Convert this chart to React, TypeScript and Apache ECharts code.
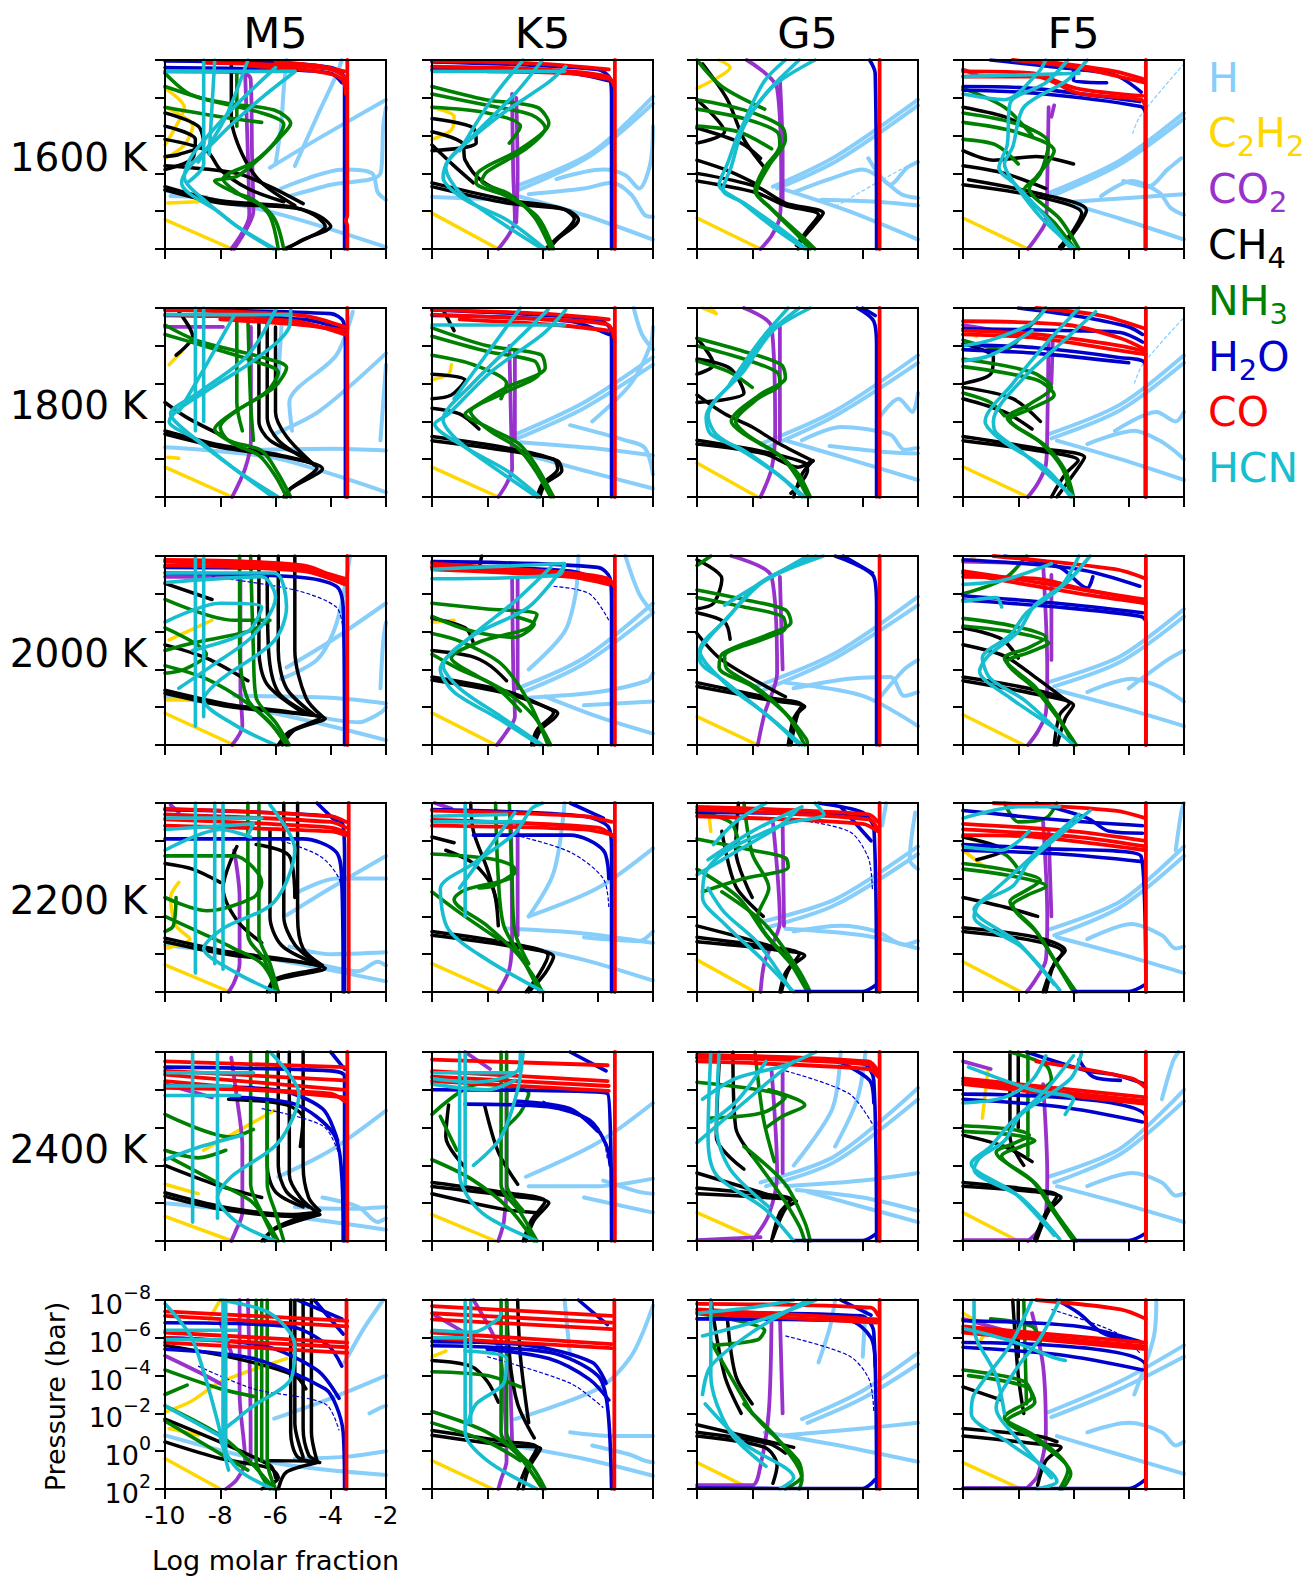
import React, { useEffect, useRef } from "react";
import * as echarts from "echarts";

const COL_LABELS = ["M5", "K5", "G5", "F5"];
const ROW_LABELS = ["1600 K", "1800 K", "2000 K", "2200 K", "2400 K", ""];
const X_MIN = -10, X_MAX = -2, X_STEP = 2;
const Y_MIN = -8, Y_MAX = 2, Y_STEP = 2;

// each panel (row*4+col) -> list of polylines, flat [x1,y1,x2,y2,...] (x: log molar fraction, y: log10 pressure/bar)
const H_LINES: number[][][] = [
  [[-10,-1.1,-6,0.1,-2,1.9],[-9.8,-0.8,-8.5,-0.75],[-6.2,-2.3,-4.5,-3.8,-2,-5.9],[-6.0,-2.5,-5.8,-4.5,-5.7,-6.5,-5.6,-8],[-5.3,-2.4,-4.5,-5,-3.8,-7.2,-3.6,-8],[-5.5,-0.8,-4,-1.4,-2.2,-2.0,-2.1,-4.5,-2,-5.5],[-5.8,-1.2,-3.5,-2.2,-2.5,-2.0,-2.3,-1.0,-2,-0.6]],
  [[-7,-1.3,-4.25,-3.07,-2,-6.06],[-6.9,-1.1,-4.3,-2.9,-2,-5.7],[-6.84,-0.78,-4.5,0.2,-2,1.5],[-6.5,-0.9,-4.5,-1.2,-3.5,-1.5,-2.8,-0.9,-2.3,0.2,-2,0.3],[-5.5,-1.7,-3.8,-2.2,-3.0,-1.9,-2.5,-1.2,-2.1,-2.5,-2,-4.5],[-10,-0.75,-7.3,-0.6]],
  [[-7.25,-1.3,-4.98,-2.9,-2,-5.9],[-7.1,-1.2,-4.9,-2.7,-2,-5.6],[-6.8,-1.13,-4.5,0.0,-2,1.5],[-6.5,-1.0,-5.0,-1.8,-4.0,-2.2,-3.3,-1.7,-2.6,-0.9,-2,-0.7],[-5.5,-0.6,-3.5,-0.5,-2,-0.3],[-3.8,-2.8,-3.0,-1.4,-2.4,-2.3,-2,-2.6]],
  [[-6.9,-0.96,-4.3,-2.7,-2,-5.2],[-6.8,-0.8,-4.3,-2.5,-2,-4.9],[-6.6,-0.6,-4.3,0.4,-2,1.5],[-5.0,-0.8,-3.9,-1.6,-2.9,-1.0,-2.5,-0.2,-2,0.2],[-6.0,-0.5,-4.0,-0.7,-2.0,-0.9],[-4.2,-1.6,-3.3,-1.3,-2.6,-2.2,-2.1,-2.8]],
  [[-10,-0.63,-6.05,-0.07,-2,1.75],[-6.5,-0.5,-4,-0.55,-2,-0.46],[-6.05,-1.33,-4.4,-2.56,-2,-5.6],[-5.4,-1.5,-5.5,-3,-3.8,-5.5,-3.2,-7.8],[-5.75,-7.7,-5.85,-5.5,-5.9,-4],[-2.2,-1.0,-2.1,-3.0,-2,-5.0]],
  [[-7,-1.3,-4.5,-3.0,-2,-5.4],[-6.9,-1.1,-4.5,-2.7,-2,-5.0],[-6.7,-0.28,-4.5,0.6,-2,1.55],[-6.8,-0.9,-4.3,-0.6,-2,-0.2],[-5.0,-1.8,-3.0,-1.0,-2.3,-0.6,-2,0.8],[-4.2,-2.0,-2.8,-4.0,-2.1,-6.0,-2,-7.0],[-2.7,-8,-2.4,-6.6,-2,-5.8]],
  [[-7.7,-0.8,-5,-2.56,-2,-5.5],[-7.5,-0.6,-5,-2.3,-2,-5.1],[-6.8,-1,-4.5,0,-2,1.1],[-6.2,-1.0,-4.8,-1.7,-3.0,-1.3,-2.5,-0.5,-2,-0.6],[-5.2,-0.7,-3.3,-0.4,-2,-0.3],[-3.5,-2.0,-2.7,-3.2,-2.2,-2.5,-2,-3.5]],
  [[-6.9,-1.33,-4.3,-2.9,-2,-5.5],[-6.8,-1.1,-4.3,-2.6,-2,-5.1],[-6.6,-0.98,-4.3,0,-2,1.1],[-5.5,-0.8,-3.8,-1.5,-2.9,-1.0,-2.4,-0.5,-2,0],[-4.5,-1.5,-3.0,-2.5,-2.3,-2.0,-2,-2.5]],
  [[-10,-0.56,-6.05,0.32,-2,1.74],[-7.5,-0.6,-4,-0.5,-2,-0.2],[-5.6,-2.1,-4,-3.5,-2,-5.5],[-3.3,-8,-3.8,-4.4,-4.5,-2.5,-5.8,-1.5],[-2.2,-1.0,-2.1,-3.5,-2,-4.5],[-4.5,0.5,-3,0.8,-2.2,0.3,-2,0.0]],
  [[-6.9,-1.0,-4.5,-2.6,-2,-5.5],[-6.7,-0.8,-4.5,-2.3,-2,-5.0],[-5.9,-0.56,-4,0.5,-2,1.4],[-6.5,-0.5,-4,-0.8,-2.2,-1.4,-2,-1.8],[-4.5,-0.1,-2,-0.3],[-4.7,-8,-4.8,-6,-5.2,-4,-6.5,-2],[-3,-8,-2.5,-6,-2,-5]],
  [[-7.85,-1.1,-5,-2.85,-2,-5.85],[-7.6,-0.9,-5,-2.6,-2,-5.4],[-6.8,-1.3,-4,-0.6,-2,1.0],[-6.5,-1.0,-4.5,-1.5,-3.0,-1.6,-2.5,-0.6,-2,-0.8],[-3.5,-0.3,-2.5,-2.0,-2,-2.5]],
  [[-6.9,-1.33,-4.3,-2.7,-2,-5.2],[-6.7,-1.1,-4.3,-2.4,-2,-4.8],[-6.6,-0.9,-4.3,0.0,-2,1.0],[-5.5,-0.8,-3.9,-1.5,-2.9,-1.1,-2.3,-0.6,-2,-0.3],[-4.0,-1.0,-2.6,-2.5,-2,-3.0]],
  [[-10,-0.48,-6,0.3,-2,1.44],[-5.5,-0.4,-4,0.0,-2,-0.1],[-5.6,-2.06,-4,-3.5,-2,-5.2],[-5.3,-3.2,-3.8,-4.0,-2,-4.0],[-4.5,0.5,-3.0,0.9,-2.3,0.4,-2,0.6]],
  [[-5.2,-8,-5.6,-4.3,-6.5,-2.0],[-6.5,-2.0,-4,-3.5,-2,-5.6],[-7.3,-1.36,-4.5,-1.1,-2,-0.6],[-7,-0.5,-4.5,0.3,-2,1.4],[-4.5,-0.9,-2.5,-0.7,-2,-1.2]],
  [[-3.15,-8,-3.3,-6.8],[-7.7,-1.7,-5,-2.9,-2,-5.7],[-7.5,-1.4,-5,-2.6,-2,-5.3],[-6.8,-1.35,-4,-1.0,-2,-0.3],[-6.5,-1.2,-4.8,-1.5,-3.5,-1.2,-2.5,-0.5,-2,-0.7],[-2.1,-7.5,-2.3,-5.0,-2.0,-4.5]],
  [[-6.9,-1.3,-4.3,-2.8,-2,-5.7],[-6.7,-1.0,-4.3,-2.5,-2,-5.2],[-6.6,-0.9,-4.3,0,-2,1.0],[-5.5,-0.8,-3.9,-1.6,-2.8,-1.0,-2.3,-0.3,-2,-0.4],[-2.3,-5.5,-2.1,-7.5,-2,-8]],
  [[-10,0.0,-6,0.6,-2,1.4],[-5.3,0.2,-3.5,0.3,-2,0.2],[-5.9,-1.4,-4,-2.8,-2,-4.9],[-4.3,-0.3,-3,0.2,-2.3,1.0,-2,0.8]],
  [[-6.6,-1.4,-4,-3.2,-2,-5.3],[-6.5,-0.9,-4,-0.9,-2,-1.3],[-4.5,-0.3,-2,0.5],[-3.8,-1.2,-2.5,-0.6,-2,-0.5]],
  [[-4.8,-8,-5.1,-5,-6.5,-2],[-3.9,-8,-4.2,-5.5,-5.0,-3.0],[-7.7,-1.1,-5,-2.5,-2,-6.1],[-7.5,-0.9,-5,-2.2,-2,-5.5],[-6.8,-0.9,-4,-1.2,-2,-1.6],[-6.4,-0.7,-4,-0.3,-2,0.4],[-6.0,-0.6,-4,0.2,-2,1.0]],
  [[-6.9,-1.4,-4.3,-2.9,-2,-6],[-6.7,-1.1,-4.3,-2.6,-2,-5.4],[-6.6,-0.9,-4.3,0,-2,1.0],[-5.5,-0.9,-3.9,-1.6,-2.8,-1.1,-2.3,-0.4,-2,-0.5],[-2.8,-5.5,-2.4,-7.5,-2.2,-8]],
  [[-10,-0.84,-5.9,0.65,-2,1.26],[-6.05,-1.72,-4,-2.8,-2,-4.0],[-3.5,-4.7,-2.8,-6.5,-2.1,-8],[-5.3,0.4,-3.5,0.3,-2,0.0],[-2.6,-2.0,-2.2,-2.3,-2,-2.4]],
  [[-7,-1.7,-4,-3.3,-2.8,-5,-2,-7.7],[-5,-1.0,-3.5,-0.8,-2,-0.8],[-7.9,-0.5,-4.5,0.4,-2,1.3],[-4.2,-0.3,-2.8,0.2,-2.3,0.5,-2,0.6],[-5.2,-8,-5.0,-5]],
  [[-5.6,-4.7,-5.2,-6.5,-5.0,-8],[-4.0,-5,-3.9,-7.5],[-6.8,-0.84,-4,-1.2,-2,-1.5],[-7.55,-1.0,-4.5,-0.2,-2,0.56],[-6.2,-1.7,-4,-3.2,-2,-5.2],[-6.0,-1.5,-4,-2.8,-2,-4.6]],
  [[-6.9,-2.07,-4.3,-3.7,-2,-5.6],[-6.8,-1.8,-4.3,-3.3,-2,-5.0],[-6.6,-0.8,-4.3,0.2,-2,1.2],[-3.0,-8,-3.1,-6.0,-3.8,-3.0],[-5.5,-1.0,-4,-1.5,-2.8,-1.0,-2.3,-0.3,-2,-0.5]],
];

const C2H2_LINES: number[][][] = [
  [[-10,0.45,-7.57,2],[-9.9,-0.43,-8.8,-0.5],[-10,-6.5,-9.3,-5.5,-9.6,-4.5,-10,-3.5],[-10,-5.5,-9.0,-4.5,-9.3,-3.5,-10,-2.8]],
  [[-10,0.1,-7.6,2],[-10,-5.5,-9.2,-5.0,-9.3,-4.3,-10,-3.8]],
  [[-10,0.36,-7.7,2],[-9.2,-8,-8.8,-7.6,-9.1,-7.2,-10,-6.5]],
  [[-10,0.36,-7.65,2],[-10,-7.5,-9.3,-7.2]],
  [[-10,0.42,-7.57,2],[-9.9,-0.1,-9.5,-0.05],[-9.85,-5.0,-9.4,-5.7]],
  [[-10,0.42,-7.6,2],[-10,-4.2,-9.4,-4.5,-9.3,-5.0]],
  [[-10,0.2,-7.8,2],[-9.8,-8,-9.3,-7.7,-9.5,-8]],
  [[-10,0.4,-7.65,2],[-10,-6.8,-9.5,-6.5]],
  [[-10,0.32,-7.5,2],[-10,-0.38,-8.8,-0.38],[-9.85,-3.56,-8.3,-4.6]],
  [[-10,0.3,-7.7,2],[-10,-4.5,-9.2,-4.6]],
  [[-10,0.5,-7.8,2]],
  [[-10,0.4,-7.8,2],[-10,-7.7,-9.6,-7.9]],
  [[-10,0.57,-7.65,2],[-9.5,-3.8,-9.8,-3.0,-9.6,-1.5,-9.1,-0.8,-10,-0.3]],
  [[-10,0.5,-7.7,2]],
  [[-10,0.3,-7.9,2],[-9.6,-7.8,-9.5,-6.5]],
  [[-10,0.4,-7.9,2],[-10,-5.5,-9.2,-4.6]],
  [[-10,0.7,-7.57,2],[-10,-1.0,-8.8,-0.5],[-8.6,-2.8,-6.05,-4.9]],
  [[-10,0.6,-7.7,2]],
  [[-10,0.5,-8,1.8]],
  [[-10,0.5,-8,2],[-9.1,-7,-9.3,-4.5]],
  [[-10,0.39,-8,2],[-9.85,-1.2,-8.8,-0.85],[-10,-2.07,-9.1,-2.6,-8,-3.65,-5.6,-4.9],[-8.0,-8,-8.4,-7.0]],
  [[-10,0.5,-7.8,2],[-10,-5.0,-9.5,-5.3]],
  [[-10,0.6,-8.2,1.9]],
  [[-10,0.6,-7.9,2],[-10,-7.3,-9,-6.5],[-9.5,-5.5,-9.2,-6.3]],
];

const CO2_LINES: number[][][] = [
  [[-10,-7.4,-7.3,-7.35,-6.9,-7,-6.85,-3,-6.8,0,-7,0.8,-7.5,2],[-7.1,-7.3,-7.0,-3,-6.95,0.2,-7.6,2]],
  [[-7.1,-6.2,-7.06,-2,-7.0,0.5,-7.2,1.2,-7.6,2],[-6.95,-6.0,-6.9,-2,-6.95,0.6]],
  [[-8.2,-8,-7.1,-6.5,-6.95,-1.5,-7.0,0.3,-7.3,1.3,-7.7,2],[-7.0,-7.0,-6.9,-3,-6.9,-0.5]],
  [[-10,-7.5,-9.5,-7.2],[-6.9,-5.5,-6.95,-1.5,-7.0,0.5,-7.3,1.3,-7.65,2],[-6.7,-5.6,-6.8,-5.0]],
  [[-10,-7.0,-7.9,-7.0],[-6.89,-7.0,-6.89,-1.0,-7.1,0.5,-7.57,2]],
  [[-10,-7.9,-8.8,-7.9],[-7.2,-6,-7.14,-2,-7.1,0.5,-7.3,1.3,-7.6,2],[-7.0,-5.8,-7.0,-1.0]],
  [[-8.3,-8,-7.3,-7.0,-7.17,-1.5,-7.3,0.5,-7.7,2],[-7.0,-7.0,-7.0,-1.0]],
  [[-10,-7.1,-8.8,-6.8,-8.0,-6.6],[-6.9,-6.5,-6.95,-1.5,-7.0,0.3,-7.3,1.3,-7.65,2],[-6.75,-6.3,-6.8,-4.0]],
  [[-10,-6.9,-7.4,-6.9],[-7.27,-6.9,-7.27,-1,-7.2,1.0,-7.57,2]],
  [[-7.1,-6.8,-7.06,-2,-7.0,0.5,-7.3,1.3,-7.65,2],[-6.9,-6.8,-6.9,-1.0]],
  [[-8.76,-8,-7.3,-6.9,-7.1,-1.8,-7.55,0.32,-7.8,2],[-7.0,-6.9,-6.9,-2.0]],
  [[-10,-7.7,-7.1,-7.6],[-7.1,-7.6,-6.95,-2.0,-7.0,0.3,-7.3,1.3,-7.65,2],[-6.8,-7.0,-6.8,-2.5]],
  [[-7.5,-5.5,-7.3,-3,-7.3,0.5,-7.5,1.5,-7.7,2],[-9.8,-7.9,-9.5,-7.5]],
  [[-7.14,-7.0,-7.1,-1,-7.2,0.8,-7.6,2],[-6.9,-7.0,-6.9,-1.0],[-9.9,-8,-9.3,-7.7]],
  [[-7.25,-6.95,-7.0,-1.7,-7.55,0.4,-7.7,2],[-6.9,-6.9,-6.85,-1.5]],
  [[-7.1,-7.0,-6.95,-2,-7.0,0.3,-7.4,1.4,-7.7,2],[-6.9,-6.5,-6.8,-2]],
  [[-7.6,-7.7,-7.4,-5.6,-7.2,-3,-7.2,0.5,-7.45,1.5,-7.6,2],[-10,-6.3,-8.3,-5.6]],
  [[-8.8,-8,-7.9,-7.1],[-7.3,-6.5,-7.3,-1,-7.4,1.0,-7.6,2]],
  [[-7.3,-7,-7.1,-1.6,-7.4,0.6,-8,2],[-6.9,-7,-6.9,-1.6],[-10,1.95,-7.7,1.8]],
  [[-7.1,-6.3,-6.95,-1.5,-7.0,0.5,-7.3,1.5,-7.65,2],[-10,1.95,-7.65,1.95],[-10,-7.5,-9,-7.1]],
  [[-7.3,-8,-7.3,-3,-7.1,0.5,-7.4,1.5,-7.8,2],[-7.0,-8,-6.9,-1,-6.9,0.5],[-10,-5.05,-8.8,-4.2,-7.9,-3.5],[-8.0,-6.8,-7.6,-5.2]],
  [[-8.5,-8,-7.6,-5.5,-7.4,-3.0,-7.3,0.5,-7.5,1.5,-7.6,2],[-7.2,-5.5,-7.1,-0.5],[-9.9,-7.2,-8.5,-6.0]],
  [[-10,1.8,-8,1.8,-7.7,0.75,-7.4,-2.1,-7.3,-7.3],[-7.0,-7.3,-6.9,-2.0]],
  [[-7.5,-7.3,-7.1,-4.5,-7.0,-1.0,-7.3,1.3,-7.65,1.9],[-10,1.95,-7.65,1.95],[-10,-7.0,-8.5,-6.4]],
];

const CH4_LINES: number[][][] = [
  [[-10,-1.13,-8,-0.43,-5.3,-0.17,-4.4,0.27,-4.0,0.8,-5.0,1.5,-5.6,2],[-10,-1.3,-8,-0.55,-5.5,-0.25,-4.6,0.2,-4.2,0.8,-5.1,1.6,-5.7,2],[-10,-2.4,-7.4,-2.0,-6.2,-1.3,-5,-0.4],[-7.6,-7.9,-7.6,-5,-7.2,-3,-6.5,-1.5,-5.3,-0.3],[-10,-5.2,-8.8,-4.5,-8.6,-3.6,-9.5,-3.0,-10,-2.9],[-10,-4.5,-8.9,-3.8,-9.0,-2.8,-10,-2.2],[-10,-3.8,-8.5,-3.2,-8.0,-2.2,-7.0,-1.2,-5.7,-0.5]],
  [[-10,-1.3,-7.3,-0.43,-5.16,-0.08,-4.7,0.45,-5.47,1.5,-5.77,2],[-10,-1.5,-7.3,-0.6,-5.3,-0.15,-4.85,0.4,-5.6,1.6,-5.9,2],[-10,-4.9,-8.5,-4.4,-8.4,-3.6,-10,-3.2],[-10,-4.2,-8.9,-3.6,-8.8,-2.7,-8.2,-1.6,-7.0,-0.7],[-10,-3.5,-9.2,-2.4,-8.5,-1.5]],
  [[-10,-2.0,-7.85,-1.3,-6.8,-0.43,-5.43,0.1,-5.8,0.8,-6.2,1.5,-6.34,2],[-10,-1.6,-7.9,-1.0,-6.8,-0.3,-5.6,0.2,-6.0,1.0,-6.4,1.8],[-9.8,-7.8,-8.9,-5.9,-8.3,-3.8,-7.5,-2.2],[-10,-5.9,-9.0,-4.2,-10,-3.6],[-10,-4.4,-8.4,-3.6,-7.7,-2.8],[-10,-2.7,-8.8,-2.1,-7.8,-1.4]],
  [[-9.8,-1.66,-7.35,-0.96,-5.53,-0.07,-5.83,0.8,-6.45,2],[-10,-1.4,-7.4,-0.8,-5.7,0.1,-6.0,1.0,-6.5,1.9],[-10,-3.2,-8.9,-2.7,-7.35,-2.9,-6.0,-2.5],[-10,-2.4,-8.5,-2.0,-7.0,-1.2],[-10,-5.5,-8.5,-5.0,-7.5,-4.3]],
  [[-10,-1.33,-8,-0.63,-5.6,-0.1,-4.3,0.5,-5.45,1.56,-5.6,2],[-10,-1.5,-8,-0.75,-5.8,-0.2,-4.5,0.45,-5.5,1.6,-5.7,2],[-6.6,-7.4,-6.6,-2,-6.2,-1,-5.0,-0.2],[-6.3,-7.4,-6.3,-2.2,-5.9,-1.0,-4.8,0.1],[-6.0,-7.0,-6.0,-2.5,-5.6,-1.2,-4.6,0.3],[-10,-3.0,-9.2,-2.2,-8.0,-1.3],[-9.5,-7.8,-9.0,-6.5,-9.6,-5.5]],
  [[-10,-0.98,-7.3,-0.46,-5.47,0.07,-5.3,0.6,-5.9,1.3,-6.1,2],[-10,-1.2,-7.3,-0.6,-5.6,0.0,-5.45,0.5,-6.0,1.3,-6.2,2],[-10,-3.2,-9.3,-3.4,-8.8,-4.2,-10,-4.5],[-10,-2.7,-9.0,-2.4,-8.3,-1.6],[-9.6,-7.9,-9.2,-6.8]],
  [[-10,-0.8,-7.55,-0.28,-6.34,0.42,-5.8,0.07,-6.2,0.8,-6.5,2],[-10,-1.0,-7.6,-0.4,-6.1,0.2,-6.0,0.6,-6.6,1.8],[-10,-3.4,-9,-2.4,-8,-1.7,-7,-0.8,-5.8,0.1],[-10,-6.4,-9.4,-5.0,-10,-4.5],[-10,-5.3,-8.8,-4.8,-8.3,-3.5,-10,-3.0]],
  [[-10,-0.98,-7.35,-0.46,-5.83,0.07,-6.3,0.8,-6.8,2],[-10,-1.2,-7.4,-0.6,-5.6,-0.1,-6.0,0.8,-6.6,2],[-10,-6.1,-8.9,-5.4,-9.0,-4.5,-10,-4.0],[-10,-3.8,-8.2,-3.2,-7.2,-2.0],[-10,-3.2,-8.5,-2.5,-7.5,-1.6]],
  [[-10,-0.73,-7.7,-0.03,-5.3,0.32,-4.2,0.6,-5.3,1.2,-5.75,2],[-10,-0.9,-7.7,-0.15,-5.5,0.25,-4.4,0.55,-5.5,1.3,-5.9,2],[-6.6,-8,-6.6,-3,-6.3,-1.2,-5.0,0.3],[-5.3,-8,-5.3,-3,-4.9,-0.5,-4.3,0.5],[-5.9,-8,-5.9,-3.0,-5.6,-1.0,-4.6,0.4],[-6.3,-7.0,-6.25,-3,-5.9,-0.8,-4.8,0.35],[-10,-6.55,-8.3,-5.7],[-10,-3.3,-8.5,-2.6,-7.0,-1.4]],
  [[-10,-1.44,-7.3,-0.73,-5.6,0.15,-5.45,0.32,-6.07,1.2,-6.3,2],[-10,-1.6,-7.3,-0.85,-5.8,0.05,-5.6,0.3,-6.2,1.2,-6.4,2],[-10,-3.0,-8.6,-2.7,-7.9,-2.2,-7.3,-1.4],[-10,-4.7,-8.8,-4.2,-8.5,-3.4],[-8.2,-8,-8.3,-7.3]],
  [[-10,-1.1,-7.4,-0.38,-6.1,-0.03,-6.34,0.32,-6.6,2],[-10,-1.3,-7.4,-0.5,-6.2,-0.1,-6.5,0.6,-6.7,2],[-10,-3.9,-9.1,-2.5,-6.8,-0.55],[-10,-7.8,-9.1,-6.8,-9.4,-5.5,-10,-5.2],[-10,-5.0,-9.0,-4.5,-8.8,-3.6]],
  [[-10,-1.6,-7.35,-0.9,-6.15,-0.2,-6.5,0.4,-6.7,2],[-10,-1.4,-7.4,-0.7,-6.0,-0.1,-6.3,0.6,-6.6,2],[-10,-3.3,-8.5,-2.7,-7.3,-1.5,-6.3,-0.4],[-10,-4.2,-8.6,-3.6,-8.0,-2.6]],
  [[-10,-0.66,-7.6,0.04,-5.3,0.39,-4.2,0.74,-6.05,1.4,-6.2,2],[-10,-0.85,-7.6,-0.1,-5.5,0.3,-4.4,0.7,-6.0,1.3,-6.3,2],[-5.2,-8,-5.2,-2,-5.0,-0.3,-4.3,0.6],[-5.7,-8,-5.7,-2,-5.3,-0.5,-4.5,0.5],[-6.2,-6.5,-6.2,-2,-5.8,-0.5,-4.7,0.4],[-7.4,-5.7,-7.9,-3.5,-7.4,-1.8,-6.5,-0.6],[-6.7,-5.8,-5.5,-5.2,-5.3,-3.0],[-10,-4.8,-9,-4.5,-8.0,-3.8]],
  [[-10,-1.0,-7.3,-0.46,-5.6,0.13,-5.9,1.0,-6.5,2],[-10,-1.2,-7.3,-0.6,-5.8,0.05,-6.1,1.0,-6.6,2],[-9.5,-5.5,-8.5,-4.8,-7.8,-3.5,-7.6,-1.5],[-10,-6.2,-9.2,-5.9],[-8.6,-8,-8.5,-6.5,-8.0,-4.5,-7.6,-2.5]],
  [[-10,-0.66,-7.55,-0.3,-6.1,0.08,-6.65,0.74,-6.95,2],[-10,-0.9,-7.5,-0.4,-6.3,0.0,-6.8,1.0,-7.0,2],[-10,-1.5,-7.5,-0.5,-6.8,0.0],[-9.1,-6.5,-8.6,-3.6,-7.6,-2.0],[-8.5,-8,-8.6,-5.5,-8.0,-3.0]],
  [[-10,-1.4,-7.35,-0.9,-6.3,-0.2,-6.7,0.5,-7.0,2],[-10,-1.2,-7.4,-0.7,-6.4,-0.1,-6.8,0.8,-7.1,2],[-10,-3.0,-8.5,-2.5,-7.3,-2.0],[-10,-6.2,-8.5,-5.5,-9.5,-5.0]],
  [[-10,-0.36,-7.9,0.34,-5.3,0.7,-4.4,0.6,-6.05,1.39,-6.5,2],[-10,-0.55,-7.9,0.2,-5.5,0.6,-4.6,0.5,-6.0,1.3,-6.4,2],[-5.9,-8,-5.9,-2,-5.6,-0.6,-4.8,0.2],[-5.5,-8,-5.5,-1.5,-5.1,-0.3,-4.4,0.6],[-5.0,-8,-5.0,-2,-4.8,-0.3,-4.4,0.4],[-6.3,-8,-6.3,-2,-6.0,-0.6,-5.0,0.2],[-7.7,-5.5,-5.6,-5.2,-5.0,-4.5,-5.1,-3.0],[-10,-2.0,-8.2,-1.0,-6.5,-0.3]],
  [[-10,-0.88,-7.3,-0.4,-5.77,-0.01,-6.3,0.9,-6.6,2],[-10,-1.1,-7.3,-0.55,-5.9,-0.1,-6.4,0.9,-6.7,2],[-9.4,-5.2,-9.5,-3.5,-8.8,-1.9],[-8.1,-5.2,-7.6,-2.7,-6.9,-1.0],[-10,-0.5,-7.5,0.3,-6.2,0.5]],
  [[-10,-0.5,-7.55,-0.3,-6.4,-0.1,-6.8,0.3,-7.25,1.8],[-10,-0.8,-7.5,-0.45,-6.6,-0.2,-7.0,0.5,-7.3,2],[-10,-1.6,-7.3,-0.4],[-9.2,-7.4,-9.3,-3.5,-8.3,-1.8],[-8.7,-8,-8.6,-4,-8.0,-2.5]],
  [[-10,-0.9,-7.35,-0.6,-6.45,-0.3,-6.9,0.4,-7.35,2],[-10,-1.1,-7.4,-0.7,-6.6,-0.4,-7.0,0.5,-7.4,1.9],[-8.3,-8,-8.3,-3.5,-7.8,-2.0],[-8.0,-8,-8.0,-4.0],[-10,-3.6,-8.5,-3.0,-7.5,-2.2]],
  [[-10,-0.49,-8,0.39,-6.2,0.9,-5.9,1.4,-6.5,2],[-10,-1.7,-6.2,0.74,-6.0,1.4],[-6.2,0.5,-4.4,0.56,-5.6,1.1,-5.9,2],[-5.45,-8,-5.45,-1,-5.2,0.3,-4.4,0.6],[-5.0,-8,-5.0,-1.2,-4.8,0.2,-4.5,0.5],[-4.7,-8,-4.7,-1,-4.5,0.5],[-5.3,-8,-5.3,-1.5,-5.0,0.3],[-10,-5.6,-7.4,-4.9,-5.3,-4.0,-4.9,-3.3]],
  [[-10,-0.84,-7.3,-0.3,-6.07,-0.14,-6.5,0.9,-6.7,2],[-10,-1.1,-7.3,-0.5,-6.2,-0.2,-6.6,0.9,-6.9,2],[-7.3,-8,-7.2,-5,-6.9,-2.5,-6.3,-0.7],[-6.9,-8,-6.8,-5,-6.5,-1.5],[-10,-4.8,-8.6,-4.5,-8.0,-3.7,-7.6,-2.6]],
  [[-10,-0.8,-7.55,-0.2,-7.1,0.74,-7.25,1.7],[-10,-1.4,-6.5,-0.2],[-10,-1.0,-7.4,-0.4,-6.8,0.1],[-9.5,-8,-9.0,-4,-8.4,-2.0],[-8.9,-7.0,-8.6,-4.0,-8.0,-2.5]],
  [[-10,-0.8,-7.35,-0.4,-6.45,-0.2,-7.0,0.5,-7.3,1.8],[-10,-1.2,-7.3,-0.8,-6.6,-0.5],[-8.2,-8,-8.0,-4.0,-7.8,-2.0],[-8.0,-8,-8.0,-5.0],[-10,-3.4,-8.6,-2.7]],
];

const NH3_LINES: number[][][] = [
  [[-10,-7.3,-9.1,-6.2,-7.7,-5.7,-6.05,-5.35,-5.45,-4.65,-5.9,-3.8,-6.5,-2.9,-7.4,-1.84,-8.2,-1.6,-7.5,-1.0,-6.8,-0.6,-6.2,0.27,-5.9,2],[-10,-6.6,-8.5,-5.9,-6.5,-5.2,-5.7,-4.6,-6.0,-3.7,-6.8,-2.6,-7.9,-1.7,-7.3,-0.9,-6.5,-0.3,-6.0,0.5,-5.7,2],[-7.4,-7.5,-7.4,-4.5],[-10,-5.5,-8.0,-5.0,-6.5,-4.7]],
  [[-10,-6.6,-8.05,-5.9,-6.2,-5.5,-5.77,-4.65,-6.84,-3.25,-8.36,-2.0,-8.4,-1.5,-7.3,-0.8,-6.2,0.27,-5.6,2],[-10,-6.2,-8.0,-5.6,-6.4,-5.1,-5.9,-4.4,-6.6,-3.3,-8.0,-2.1,-8.2,-1.6,-7.2,-0.9,-6.3,0.3,-5.7,2],[-10,-5.5,-8.0,-5.2,-6.8,-4.5,-7.2,-3.6]],
  [[-10,-5.9,-8.3,-5.36,-6.95,-4.5,-6.8,-3.8,-7.4,-2.4,-7.85,-1.0,-7.4,-0.26,-6.34,1.15,-5.73,2],[-10,-5.4,-8.3,-4.9,-7.1,-4.2,-7.0,-3.5,-7.6,-2.2,-7.9,-1.1,-7.3,-0.1,-6.4,1.2,-5.9,2],[-10,-8,-9.1,-6.6,-7.55,-5.4],[-10,-4.5,-8.5,-4.2,-7.3,-3.3]],
  [[-10,-4.7,-8.1,-4.2,-6.7,-3.2,-7.35,-1.8,-7.8,-1.1,-6.7,0.6,-5.95,2],[-10,-5.2,-8.0,-4.6,-6.9,-3.6,-7.2,-2.0,-7.6,-1.2,-6.5,0.4,-5.8,2],[-10,-6.5,-8.5,-5.5,-7.5,-4.0],[-10,-3.8,-8.8,-3.5,-8.0,-2.5]],
  [[-10,-7.1,-8.8,-6.25,-6.5,-5.4,-5.6,-4.85,-6.05,-3.8,-7.4,-2.56,-8,-1.7,-7.7,-1.0,-6.5,-0.45,-5.9,0.77,-5.45,2],[-10,-6.6,-8.6,-6.0,-6.8,-5.2,-5.9,-4.6,-6.3,-3.6,-7.6,-2.4,-8.2,-1.6,-7.5,-0.8,-6.6,-0.2,-6.0,0.9,-5.6,2],[-7.4,-7.7,-7.4,-3.0,-7.2,-1.5],[-7.0,-7.5,-6.9,-3.0,-6.8,-1.0]],
  [[-10,-6.95,-8.0,-6.0,-6.07,-5.54,-5.9,-4.84,-7.3,-3.8,-8.5,-2.74,-8.8,-2.4,-8.0,-1.7,-6.84,-0.8,-6.2,0.42,-5.6,2],[-10,-6.5,-8.0,-5.7,-6.3,-5.2,-6.1,-4.6,-7.4,-3.5,-8.6,-2.5,-7.9,-1.5,-6.9,-0.6,-6.3,0.5,-5.7,2],[-10,-5.5,-8.5,-5.0,-7.3,-4.0,-7.5,-3.2]],
  [[-10,-6.4,-8.3,-5.7,-6.95,-5.0,-6.8,-4.3,-7.7,-3.44,-8.76,-2.0,-8.3,-1.33,-7.1,-0.28,-6.34,0.77,-5.9,2],[-10,-6.0,-8.3,-5.3,-7.1,-4.6,-7.0,-4.0,-7.8,-3.2,-8.6,-2.0,-8.1,-1.2,-7.0,-0.2,-6.4,0.9,-6.0,2],[-10,-5.2,-8.8,-4.6,-8.0,-3.8]],
  [[-10,-4.9,-7.35,-4.2,-6.7,-3.4,-7.5,-2.7,-8.3,-2.1,-7.0,-0.7,-6.3,0.6,-6.0,2],[-10,-5.3,-7.5,-4.6,-6.8,-3.8,-7.6,-2.9,-8.4,-2.2,-7.2,-0.9,-6.4,0.5,-6.1,2],[-10,-6.3,-8.5,-5.8,-7.6,-7.0,-7.0,-8],[-10,-3.5,-9,-3.0,-8.5,-2.3]],
  [[-10,-5.7,-7.5,-4.6,-6.2,-4.6,-7.0,-4.0,-9.0,-3.4,-10,-3.0],[-7.3,-8,-7.3,-3.0,-7.0,-0.4,-6.2,0.8,-5.6,2],[-6.9,-8,-6.8,-3.0,-6.7,-0.5,-6.0,0.8,-5.5,2],[-10,-2.2,-8.5,-1.5,-7.0,-0.2,-6.1,1.0,-5.6,2],[-10,-4.2,-8.5,-2.8,-9.3,-2.0,-10,-1.8]],
  [[-10,-5.5,-8,-5.2,-6.2,-4.9,-6.5,-4.2,-8.2,-3.5,-9.3,-2.6,-8.3,-1.6,-7.3,-0.8,-6.3,0.5,-5.7,2],[-10,-3.9,-9,-3.5,-7.5,-2.3,-6.5,-0.3,-5.8,2],[-10,-4.8,-8.5,-4.0,-7.0,-3.7,-6.3,-4.4,-7.0,-4.8],[-10,-2.8,-9.0,-2.0,-7.8,-1.2,-6.8,0.2]],
  [[-10,-6.2,-8.3,-5.7,-6.8,-5.15,-6.6,-4.5,-7.5,-3.8,-9.06,-2.85,-9.2,-2.1,-8,-1.1,-6.8,0.32,-6.04,1.7,-6.0,2],[-10,-5.8,-8.3,-5.3,-6.9,-4.8,-6.8,-4.2,-7.6,-3.6,-9.0,-2.7,-8.9,-2.0,-7.8,-1.0,-6.7,0.5,-6.1,2],[-10,-7.5,-9.5,-8]],
  [[-10,-4.3,-8.1,-3.95,-6.9,-3.4,-7.6,-2.9,-8.4,-2.4,-7.35,-0.9,-6.6,0.5,-5.9,2],[-10,-4.7,-8.2,-4.3,-7.0,-3.7,-7.7,-3.1,-8.5,-2.6,-7.4,-1.1,-6.6,0.4,-6.0,2],[-10,-6.0,-8.5,-6.8,-7.7,-8]],
  [[-7.0,-8,-7.0,-1,-6.4,0.3,-6.0,2],[-6.6,-8,-6.6,-1,-6.2,0.5,-5.9,2],[-10,-5.2,-7.5,-5.2,-6.5,-3.8,-6.8,-3.0,-8.5,-2.3,-10,-3.0],[-10,-2.0,-8.5,-1.0,-7.5,-0.3,-6.5,0.5,-5.9,2],[-9.6,-3.0,-9.7,-1.5,-10,-1.2]],
  [[-10,-5.3,-7.7,-5.0,-7.0,-4.5,-7.2,-4.0,-8.8,-3.4,-9.2,-2.9,-8.0,-1.5,-6.9,0.0,-6.4,1.0,-6.0,2],[-7.7,-8,-7.6,-4,-7.4,-1.5,-6.7,0.3,-6.1,2],[-7.2,-8,-7.1,-4,-7.0,-1.2,-6.5,0.5],[-10,-3.3,-9.0,-2.2,-7.6,-0.8],[-8.3,-3.5,-7.8,-3.6,-7.0,-4.3]],
  [[-10,-6.1,-8.0,-5.5,-6.8,-5.1,-6.7,-4.6,-8.3,-4.0,-9.8,-3.3],[-8.3,-8,-8.0,-5.3,-7.4,-3.5,-7.8,-2.0,-6.6,0.5,-6.0,2],[-9.1,-3.3,-7.55,-1.6,-6.34,0.8,-5.9,2],[-10,-4.5,-8.5,-3.0,-7.5,-1.0,-6.6,0.5],[-10,-7.5,-8.8,-7.0,-8.5,-6.0]],
  [[-10,-4.5,-8.1,-4.1,-7.0,-3.6,-7.7,-3.1,-8.2,-2.6,-7.3,-1.1,-6.6,0.5,-5.9,2],[-10,-4.8,-8.2,-4.4,-7.2,-3.9,-7.8,-3.3,-8.3,-2.8,-7.4,-1.3,-6.7,0.3,-6.0,2],[-8.5,-8,-8.0,-7,-7.0,-7.2,-6.6,-8],[-10,-5.8,-8.5,-5.3,-8.0,-4.5]],
  [[-6.3,-8,-6.3,-1,-6.0,0.5,-5.7,2],[-6.9,-8,-6.9,-1,-6.5,0.5,-6.0,2],[-9.8,-2.4,-8,-1.0,-6.8,0.0,-5.9,2],[-10,-4.7,-7.6,-3.5,-6.8,-3.9],[-10,-2.8,-8.8,-2.4,-7.8,-2.8]],
  [[-7.5,-8,-7.5,-1.0,-6.8,0.5,-6.2,2],[-7.3,-8,-7.3,-1.0,-6.7,0.4],[-10,-4.7,-8.3,-6.3,-6.5,-5.8,-6.8,-4.8,-7.5,-3.8],[-10,-2.3,-8.6,-1.3,-7.2,0.3,-6.3,2],[-9.7,-4.6,-9.1,-2.8]],
  [[-10,-6.4,-6.8,-5.6,-7.6,-4.8,-9.5,-4.5],[-8.3,-3.0,-6.8,-1.0,-6.1,1.0,-5.9,2],[-8.0,-2.5,-7.0,-0.5,-6.3,1.2,-6.1,2],[-7.9,-8,-7.6,-4.5,-7.2,-2.2],[-7.4,-6.0,-6.1,-5.2,-6.9,-4.6,-7.5,-4.0]],
  [[-10,-3.8,-8.1,-3.6,-7.4,-3.3,-7.9,-3.0,-8.6,-2.5,-7.35,-1.0,-6.6,0.6,-5.9,2],[-10,-4.1,-8.2,-3.9,-7.6,-3.6,-8.1,-3.2,-8.8,-2.7,-7.5,-1.2,-6.7,0.5,-6.0,2],[-7.65,-8,-7.65,-2.5],[-8.3,-8,-7.0,-7.3,-6.8,-6.5,-7.5,-5.8]],
  [[-6.3,-8,-6.3,0.5,-6.0,2],[-6.7,-8,-6.7,0.5,-6.2,2],[-6.5,-8,-6.5,0.5],[-10,-4.3,-8,-3.3,-6.8,-2.9],[-10,-2.4,-8,-0.84,-6.8,0.74,-6.05,2],[-9.2,-3.5,-10,-3.0],[-10,-1.6,-8.5,-0.3,-7.0,1.0]],
  [[-7.5,-8,-7.5,-1.0,-6.7,0.5,-6.0,2],[-7.3,-8,-7.3,-1.0,-6.6,0.5],[-10,-2.1,-8,-1.0,-6.5,0.6,-5.9,2],[-10,-4.2,-8,-4.0,-6.8,-3.4],[-10,-1.5,-8,-0.5,-6.8,0.5]],
  [[-10,-7.3,-7.55,-6.4,-7.8,-5.9,-9.5,-5.6],[-8.3,-2.5,-7.55,-1.3,-6.34,0.5,-6.2,1.3,-6.8,2],[-8.0,-2.0,-7.0,-0.5,-6.2,1.5,-6.3,2],[-9.5,-5.8,-8.8,-4.0,-8.0,-2.0]],
  [[-9.8,-4.0,-7.7,-3.4,-7.4,-2.6,-8.4,-1.6,-7.35,-0.6,-6.1,1.2,-6.4,2],[-10,-4.3,-7.8,-3.7,-7.5,-2.9,-8.5,-1.8,-7.4,-0.8,-6.2,1.0,-6.5,2],[-7.8,-8,-7.7,-2.5],[-9.0,-7,-7.5,-6.6,-7.2,-5.8]],
];

const H2O_LINES: number[][][] = [
  [[-10,-7.95,-6,-7.85,-4,-7.6,-3.55,-7.2,-3.5,-6.5,-3.5,2],[-10,-7.6,-6,-7.5,-4,-7.3,-3.6,-6.8]],
  [[-10,-7.9,-4,-7.5,-3.55,-7.0,-3.5,-5.9,-3.5,2],[-10,-7.5,-5,-7.3,-3.6,-6.9]],
  [[-3.75,-8,-3.55,-7.3,-3.5,2]],
  [[-10,-6.4,-7.35,-6.24,-3.56,-5.54,-3.4,-5.2,-3.4,2],[-9,-8,-6.5,-7.6,-4.5,-7.2,-3.55,-6.3],[-10,-6.6,-7.5,-6.5,-3.6,-5.8],[-6.0,-7.6,-6.0,-6.9,-4.8,-6.8]],
  [[-10,-7.9,-4,-7.7,-3.55,-7.3,-3.47,-6.25,-3.47,2],[-10,-7.6,-5,-7.4,-3.6,-6.9]],
  [[-10,-7.9,-4,-7.4,-3.55,-6.9,-3.5,-6.0,-3.5,2],[-10,-7.6,-5,-7.3,-3.6,-6.6]],
  [[-4.2,-8,-3.6,-7.3,-3.5,-6,-3.5,2],[-4.0,-8,-3.55,-7.6]],
  [[-10,-6.07,-7.35,-5.9,-4.3,-5.37,-3.4,-5.0,-3.4,2],[-10,-6.9,-6,-6.8,-4.3,-6.7,-3.5,-6.2],[-8.0,-8,-6.0,-7.6,-4.0,-7.0,-3.5,-6.6],[-10,-5.8,-7.3,-5.6,-4.0,-5.1]],
  [[-10,-7.1,-5.3,-6.9,-3.8,-6.4,-3.55,-5.3,-3.5,2],[-10,-7.4,-5.0,-7.3,-3.7,-6.8]],
  [[-10,-7.7,-4.0,-7.4,-3.55,-6.8,-3.5,-5.5,-3.5,2],[-10,-7.4,-5,-7.2,-3.6,-6.5]],
  [[-5,-8,-3.6,-6.9,-3.5,-5.3,-3.5,2],[-4.7,-8,-3.65,-7.1]],
  [[-10,-5.67,-6.6,-5.3,-3.56,-4.8,-3.38,-4.5,-3.38,2],[-10,-7.8,-5.83,-7.3,-3.6,-6.4],[-10,-5.9,-6.6,-5.5,-3.5,-5.0],[-8.5,-8,-6.5,-7.4,-5.5,-6.3,-5.3,-6.9]],
  [[-10,-7.65,-4.0,-7.3,-3.55,-6.8,-3.5,-5,-3.5,2],[-10,-6.1,-5.0,-6.1,-3.8,-5.4,-3.6,-3.8,-3.55,2],[-4.5,-8,-3.8,-7.0]],
  [[-10,-7.65,-4.5,-7.3,-3.6,-6.7,-3.5,-5.5,-3.5,2],[-8.5,-6.3,-5,-6.3,-3.8,-5.5,-3.6,-4.0],[-5.0,-8,-3.8,-7.2]],
  [[-10,-7.5,-4.0,-7.3,-3.6,-6.8,-3.5,2],[-5.6,-8,-4.0,-7.5,-3.6,-6.8],[-4.8,-7.8,-3.7,-6.0],[-6.5,1.97,-4,1.97,-3.5,1.6]],
  [[-10,-5.8,-7.35,-5.6,-3.56,-5.2,-3.38,2],[-7.35,-8,-5.5,-7.2,-4.7,-6.5,-3.5,-6.4],[-10,-7.6,-6.5,-7.1,-3.5,-6.8],[-10,-5.5,-6.5,-5.3,-3.5,-4.9],[-6.0,1.97,-4,1.97,-3.4,1.6]],
  [[-10,-7.2,-4.0,-7.0,-3.5,-6.7,-3.5,2],[-7.6,-5.6,-5.3,-5.24,-3.9,-3.67,-3.6,-1.4,-3.55,2],[-10,-6.2,-6,-6.0,-4.3,-5.0,-3.75,-3.3],[-4.0,-8,-3.5,-7.1]],
  [[-10,-6.0,-3.64,-5.8,-3.5,2],[-8.8,-5.24,-5.8,-5.1,-4.3,-4.4,-3.7,-3.1,-3.55,-2.0],[-5.0,-8,-3.7,-7.0],[-7.0,-5.4,-5.0,-5.0,-4.0,-3.8]],
  [[-10,-7.7,-4.0,-7.4,-3.6,-6.5,-3.5,2],[-5.0,-7.6,-3.75,-6.5,-3.6,-5.3],[-6.5,1.97,-4,1.97,-3.5,1.6]],
  [[-10,-5.77,-3.38,-4.55,-3.38,2],[-7.7,-8,-5.5,-7.0,-4.5,-6.8,-3.4,-6.3],[-10,-5.5,-6.5,-5.1,-3.5,-4.3],[-5.8,-7.6,-5.3,-6.7,-4.3,-6.5],[-6.0,1.97,-4,1.97,-3.4,1.6]],
  [[-10,-5.4,-6.8,-4.9,-4.2,-3.3,-3.8,-2.4,-3.55,-1.0,-3.5,2],[-10,-6.8,-5.5,-6.6,-4.1,-5.6,-3.6,-4.5],[-10,-6.0,-6.5,-5.6,-4.5,-4.3,-3.7,-2.8],[-5.2,-8,-3.6,-7.0],[-4.6,-8,-3.55,-6.2]],
  [[-10,-5.58,-5.77,-5.23,-4,-4.0,-3.65,-2.4,-3.5,2],[-8.0,-5.4,-5.77,-4.9,-4.3,-3.8,-3.6,-2.7],[-4.7,-8,-3.65,-6.7],[-10,-5.8,-6.5,-5.6,-4.2,-4.7,-3.7,-3.6]],
  [[-10,-7.33,-4.07,-7.16,-3.6,-6.3,-3.5,2],[-10,-7.0,-4.5,-6.9,-3.7,-6.0,-3.55,-4.5],[-4.8,-8,-3.7,-7.2],[-10,1.95,-7.0,1.97,-4.0,1.97,-3.55,1.5]],
  [[-10,-5.75,-3.38,-4.5,-3.38,2],[-6.6,-8,-5.8,-7.3,-5.0,-6.3,-4.0,-5.8],[-10,-5.5,-6.5,-5.1,-3.5,-4.3],[-10,-6.9,-5.8,-6.6,-3.6,-5.8],[-10,1.97,-4,1.97,-3.4,1.5]],
];

const H2O_THIN_LINES: number[][][] = [
  [],[],[],[],
  [],[],[],[],
  [[-8.3,-6.9,-5.3,-6.2,-3.8,-5.3,-3.55,-4.1]],[[-5.6,-6.4,-4.3,-6.0,-3.6,-4.6]],[],[],
  [[-6.0,-6.1,-4.4,-5.2,-3.7,-4.0,-3.55,-2.5]],[[-7.0,-6.3,-5.0,-5.4,-3.8,-4.0,-3.6,-2.5]],[[-6.8,-7.2,-4.5,-6.5,-3.8,-5.1,-3.65,-3.4]],[],
  [[-6.5,-5.0,-4.3,-4.1,-3.7,-2.6,-3.55,-1.4]],[[-6.0,-5.4,-4.0,-4.0,-3.65,-2.3]],[[-6.8,-7.0,-4.5,-5.8,-3.65,-4.2]],[],
  [[-8.8,-4.5,-6.8,-3.3,-4.2,-2.5,-3.7,-1.1]],[[-8.0,-5.0,-5.0,-3.6,-3.8,-2.3]],[[-6.8,-6.1,-4.5,-5.05,-3.77,-3.8,-3.6,-2.1]],[[-6.8,-7.5,-4.5,-6.3,-3.6,-5.2]],
];

const H_THIN_LINES: number[][][] = [
  [],[],[[-4.98,-0.25,-3.5,-1.5,-2,-2.7]],[[-3.86,-4.1,-3.6,-5.0,-2,-7.8]],
  [],[],[],[[-3.8,-4.0,-3.5,-5.0,-2,-7.5]],
  [],[],[],[],[],[],[],[],[],[],[],[],[],[],[],[],
];

const CO_LINES: number[][][] = [
  [[-3.4,-8,-3.4,0.2,-3.45,0.5,-3.4,0.8,-3.4,2],[-8.6,-7.85,-6,-7.75,-4,-7.5,-3.5,-7.1,-3.4,-6.5],[-7,-7.7,-4.5,-7.4,-3.6,-7.0,-3.45,-6.2],[-6.0,-7.9,-4.5,-7.7,-3.5,-7.4]],
  [[-3.38,-8,-3.38,2],[-10,-7.65,-6,-7.5,-3.64,-7.12,-3.4,-6.6],[-10,-7.95,-6,-7.8,-3.6,-7.5],[-8,-7.4,-5,-7.3,-3.6,-7.0]],
  [[-3.39,-8,-3.39,2]],
  [[-3.38,-8,-3.38,2],[-10,-7.12,-7.35,-7.12,-5.83,-6.24,-3.56,-5.9,-3.38,-5.5],[-8.2,-8,-5.83,-7.6,-4.3,-7.1,-3.4,-6.8],[-10,-7.4,-7.5,-7.3,-5.9,-6.5,-3.5,-6.1],[-6.9,-7.9,-4.5,-7.4,-3.5,-7.0]],
  [[-3.4,-8,-3.4,2],[-10,-7.65,-5.3,-7.3,-3.5,-6.6],[-10,-7.9,-5,-7.6,-3.5,-7.0],[-8,-7.4,-5,-7.1,-3.5,-6.8]],
  [[-3.38,-8,-3.38,2],[-10,-7.65,-6.0,-7.4,-3.64,-7.12,-3.4,-6.4],[-10,-7.9,-6,-7.7,-3.6,-7.4],[-9,-7.4,-5.5,-7.1,-3.6,-6.8]],
  [[-3.39,-8,-3.39,2]],
  [[-3.38,-8,-3.38,2],[-10,-6.6,-7.35,-6.42,-4.3,-5.74,-3.38,-5.55],[-10,-7.3,-6.2,-7.1,-4.3,-6.4,-3.4,-5.8],[-7.35,-8,-5,-7.6,-3.4,-6.9],[-10,-6.8,-7.3,-6.6,-4.3,-6.0,-3.4,-5.7]],
  [[-3.4,-8,-3.4,2],[-10,-7.8,-5,-7.5,-3.5,-6.6],[-10,-7.5,-5,-7.2,-3.5,-6.5],[-10,-7.7,-5,-7.35,-3.5,-6.8]],
  [[-3.38,-8,-3.38,2],[-10,-7.6,-5,-7.1,-3.64,-6.8,-3.4,-6.4],[-10,-7.3,-5,-6.9,-3.6,-6.5],[-10,-7.45,-5,-7.0,-3.6,-6.6]],
  [[-3.39,-8,-3.39,2]],
  [[-3.38,-8,-3.38,2],[-10,-7.08,-5.83,-6.02,-3.38,-5.5],[-8.9,-8,-4.5,-7.3,-3.38,-6.8],[-10,-6.9,-7.35,-6.8,-5.5,-6.2,-3.4,-5.7],[-10,-7.2,-6.0,-6.3,-3.4,-5.6]],
  [[-3.35,-8,-3.35,2],[-10,-7.13,-4,-6.7,-3.45,-6.43],[-10,-7.7,-4,-7.3,-3.45,-7.0],[-10,-6.8,-4,-6.5,-3.45,-6.3],[-10,-7.4,-4,-7.0,-3.45,-6.7]],
  [[-3.38,-8,-3.38,2],[-10,-7.1,-4,-6.7,-3.45,-6.25],[-10,-6.8,-4.5,-6.6,-3.45,-6.3],[-10,-7.6,-4.5,-7.3,-3.5,-7.0]],
  [[-3.39,-8,-3.39,2],[-10,-7.65,-3.77,-7.13,-3.46,-6.6],[-10,-7.8,-3.8,-7.4,-3.45,-7.0],[-10,-7.3,-4.0,-6.9,-3.45,-6.5]],
  [[-3.38,-8,-3.38,2],[-10,-6.6,-5.83,-6.2,-3.38,-5.7],[-10,-6.3,-7.35,-6.2,-3.38,-5.5],[-8.9,-8,-4.5,-7.6,-3.4,-7.2],[-10,-6.9,-6,-6.5,-3.4,-6.0]],
  [[-3.4,-8,-3.4,2],[-10,-7.5,-3.5,-7.2],[-10,-6.46,-3.5,-5.6],[-10,-7.0,-3.5,-6.5],[-10,-6.1,-4,-5.8,-3.5,-5.4],[-10,-6.8,-3.5,-6.0]],
  [[-3.38,-8,-3.38,2],[-10,-7.6,-3.64,-7.3],[-10,-6.99,-3.64,-6.46],[-10,-6.46,-3.6,-5.94],[-10,-6.7,-3.6,-6.2]],
  [[-3.39,-8,-3.39,2],[-10,-7.7,-3.77,-7.35,-3.46,-6.8],[-10,-7.5,-3.8,-7.1,-3.45,-6.7],[-10,-7.85,-3.8,-7.5,-3.45,-7.0]],
  [[-3.38,-8,-3.38,2],[-10,-6.3,-3.38,-5.25],[-10,-6.6,-3.38,-5.6],[-7.35,-7.5,-3.9,-6.6,-3.38,-6.1],[-10,-6.45,-3.38,-5.4]],
  [[-3.43,-8,-3.43,2],[-10,-7.16,-3.4,-6.6],[-10,-6.28,-3.4,-5.75],[-10,-5.75,-3.4,-5.2],[-10,-6.0,-3.4,-5.5],[-10,-7.4,-3.4,-6.9]],
  [[-3.4,-8,-3.4,2],[-10,-7.68,-3.5,-7.16],[-10,-6.98,-3.5,-6.46],[-10,-6.28,-3.5,-5.67],[-10,-6.0,-3.5,-5.45],[-10,-7.3,-3.5,-6.8]],
  [[-3.39,-8,-3.39,2],[-10,-7.5,-3.46,-6.98],[-10,-7.8,-3.7,-7.6,-3.45,-7.2],[-10,-7.3,-3.5,-6.8]],
  [[-3.38,-8,-3.38,2],[-10,-6.28,-3.38,-5.4],[-10,-6.6,-3.38,-5.75],[-7.35,-8,-4.3,-7.5,-3.38,-7.0],[-10,-6.45,-3.38,-5.55]],
];

const HCN_LINES: number[][][] = [
  [[-5.3,-7.38,-6.5,-6.0,-8.0,-4.0,-9.4,-1.5,-8,0.1,-7.4,0.8,-6,2],[-6.0,-7.6,-7.5,-5.5,-9.0,-3.0,-9.3,-1.8,-8.5,-0.5,-7.2,1.0,-6.1,2],[-8.6,-8,-8.6,-2.5,-9.2,-1.5],[-8.2,-8,-8.4,-3.0],[-10,-7.4,-5.3,-7.4],[-7.0,-8,-7.8,-5.0,-8.8,-2.6]],
  [[-5.16,-7.65,-5.8,-6.8,-7.6,-5.0,-9.4,-2.7,-9.6,-1.8,-8.8,-0.6,-7.3,0.45,-5.9,2],[-6.0,-8,-7.0,-6.2,-8.5,-4.0,-9.5,-2.3,-9.0,-1.0,-7.5,0.6,-6.0,2],[-10,-7.4,-5.2,-7.4],[-6.7,-8,-7.8,-6,-9.0,-3.2]],
  [[-5.73,-8,-7.25,-6.6,-8.3,-4.5,-8.76,-2.36,-9.06,-1.13,-8.3,-0.43,-7.1,0.8,-6.04,2],[-6.3,-8,-7.4,-6.4,-8.4,-4.4,-8.9,-2.5,-9.2,-1.4,-8.4,-0.5,-7.2,0.9,-6.1,2],[-6.8,-8,-7.6,-6.8,-8.5,-4.0]],
  [[-5.5,-8,-6.25,-6.9,-7.8,-5.5,-8.2,-3.4,-8.5,-2.5,-8.2,-1.6,-7.2,0.3,-5.95,2],[-6.2,-8,-7.0,-6.8,-8.3,-5.7,-8.4,-3.5,-8.7,-2.3,-8.1,-1.4,-7.0,0.3,-6.1,2],[-10,-7.12,-5.8,-7.3],[-10,-6.2,-8.5,-5.9,-7.3,-7.3,-7.0,-8]],
  [[-5.45,-7.9,-5.5,-7.0,-6.8,-5.2,-8.3,-3.8,-9.85,-2.0,-8.8,-1.0,-7.4,0.6,-5.9,2],[-6.0,-7.9,-7.0,-5.5,-8.8,-3.5,-9.8,-2.4,-9.0,-1.2,-7.5,0.5,-6.1,2],[-8.9,-8,-8.9,-1.5],[-8.6,-8,-8.6,-2.0],[-10,-7.65,-5.45,-7.65],[-7.5,-7.6,-8.5,-5.0,-9.5,-2.5]],
  [[-5.16,-7.9,-6.0,-6.6,-7.8,-4.7,-9.4,-2.4,-9.9,-1.86,-8.8,-0.63,-7.3,0.6,-6.1,2],[-5.8,-7.9,-7.0,-6.2,-8.6,-3.9,-9.6,-2.1,-9.0,-0.9,-7.5,0.7,-6.2,2],[-10,-7.1,-5.2,-7.1],[-6.8,-8,-7.8,-6,-9.2,-3.2]],
  [[-5.9,-8,-7.25,-6.8,-8.3,-4.67,-9.67,-2.2,-9.5,-1.33,-8.3,-0.46,-7.1,0.77,-6.1,2],[-6.3,-8,-7.5,-6.5,-8.6,-4.3,-9.6,-2.3,-9.3,-1.3,-8.2,-0.3,-7.0,0.9,-6.2,2],[-6.7,-8,-7.7,-6.3,-8.8,-4.0]],
  [[-5.2,-7.8,-6.25,-6.4,-7.8,-4.3,-8.9,-2.0,-8.8,-1.4,-7.8,-0.3,-6.0,2],[-5.8,-8,-7.0,-6.1,-8.2,-4.0,-9.2,-2.0,-8.6,-1.0,-7.0,0.5,-6.1,2],[-10,-6.0,-9.0,-6.3,-7.5,-7.2,-7.0,-8],[-10,-5.2,-9.0,-5.5,-7.5,-6.8]],
  [[-10,-7.1,-6.05,-7.1,-5.6,-5.3,-6.05,-3.5,-8,-1.44,-8.6,-0.38,-7.4,1.0,-6,2],[-10,-6.6,-6.5,-6.9,-6.0,-5.8,-6.8,-3.8,-8.3,-2.2,-9.5,-1.0],[-8.9,-8,-8.9,1.0],[-8.6,-8,-8.6,0.5],[-10,-4.5,-8.0,-5.5,-6.5,-5.3,-7.0,-4.0,-9.0,-3.0]],
  [[-5.2,-7.5,-6.5,-5.3,-8.5,-3.8,-9.6,-2.2,-9.0,-1.0,-7.5,0.5,-6,2],[-5.7,-7.4,-7.0,-5.6,-8.7,-3.6,-9.7,-2.0,-9.2,-0.8,-7.6,0.6,-6.1,2],[-10,-7.3,-5.2,-7.6,-5.4,-7.0,-10,-6.8]],
  [[-5.43,-8,-7.55,-6.7,-8.76,-4.96,-9.82,-3.2,-9.9,-2.5,-9.06,-1.44,-7.55,0.32,-6.2,2],[-5.7,-8,-7.8,-6.5,-8.9,-4.7,-9.9,-3.0,-9.0,-1.3,-7.4,0.5,-6.3,2],[-6.0,-8,-8.0,-6.3,-9.0,-5.4]],
  [[-5.4,-8,-6.25,-6.6,-7.4,-5.4,-8.0,-4.0,-9.1,-2.7,-9.4,-1.9,-8.3,-0.5,-6.8,1.0,-6.0,2],[-5.8,-8,-6.5,-6.3,-7.7,-5.0,-8.3,-3.8,-9.3,-2.6,-9.0,-1.5,-7.8,-0.4,-6.4,1.5],[-10,-6.5,-8.6,-6.7,-6.8,-7.6],[-10,-5.6,-8.8,-5.8,-8.6,-5.3]],
  [[-6.2,-7.9,-5.3,-5.55,-6.05,-2.76,-7.9,-1.36,-8.6,-0.3,-7.4,1.0,-6,2],[-8.9,-8,-8.9,1.0],[-8.2,-8,-8.2,0.5],[-7.9,-8,-7.9,0.8],[-10,-7.2,-6.5,-7.2],[-10,-6.6,-6.8,-6.9,-7.0,-6.3],[-10,-5.5,-8.0,-6.6,-6.9,-6.2]],
  [[-6.0,-8,-6.4,-7.7,-7.0,-6.4,-8.5,-4.8,-9.7,-3.45,-9.4,-1.3,-8.0,0.3,-5.95,2],[-8.8,-8,-8.8,-2.0],[-10,-7.0,-6.7,-7.0],[-10,-7.3,-7.3,-7.4],[-7.0,-7.5,-8.0,-5.5,-9.0,-3.5]],
  [[-5.73,-8,-5.4,-7.4,-6.8,-6.9,-9.0,-5.4,-9.7,-4.3,-9.8,-3.0,-9.0,-1.6,-7.55,0.4,-6.5,2],[-6.2,-7.8,-8.0,-6.5,-9.6,-5.0],[-7.5,-8,-8.6,-7.0,-9.4,-5.8],[-10,-4.2,-8.5,-5.5,-7.0,-6.8,-6.4,-7.6],[-9.6,-3.5,-9.0,-2.2,-7.8,-0.6,-6.6,1.9]],
  [[-5.4,-7.6,-6.25,-6.6,-7.6,-4.9,-8.2,-3.6,-9.4,-2.7,-9.6,-2.0,-7.9,-0.4,-6.5,1.9],[-5.8,-7.4,-6.9,-6.0,-8.0,-4.5,-9.0,-3.2,-9.6,-2.4,-8.0,-0.6,-6.7,1.6],[-10,-7.2,-8.0,-7.8,-6.5,-7.8],[-10,-5.7,-8.6,-5.5,-7.6,-6.5]],
  [[-6.2,-8,-5.15,-5.77,-5.9,-3.2,-7.6,-1.4,-8.1,-0.3,-7.4,1.0,-6,2],[-9.0,-8,-9.0,1.0],[-8.1,-8,-8.1,0.8],[-10,-6.9,-6.8,-6.9],[-10,-6.2,-7.6,-6.2],[-10,-5.7,-7.3,-5.7],[-10,-2.3,-8.7,-3.0,-7.2,-3.6]],
  [[-9.0,-8,-9.0,-1.5,-8.2,0.5,-6.2,2],[-8.8,-8,-8.8,-1.0],[-10,-6.9,-7.0,-6.9],[-6.8,-8,-6.9,-7.0,-8.5,-6.4,-10,-6.6],[-6.7,-8,-6.9,-6.0,-7.5,-3.5,-8.5,-2.0],[-10,-6.3,-8.0,-6.0,-7.0,-6.5]],
  [[-5.7,-8,-6.8,-7.3,-8.6,-6.6,-9.8,-5.5],[-9.5,-8,-9.6,-3.5,-9.3,-1.5,-7.55,0.3,-6.5,2],[-9.2,-8,-9.3,-4.0,-8.8,-1.8,-7.4,0.2],[-7.5,-7.5,-8.5,-5.5,-9.5,-4.3],[-10,-3.2,-7.6,-6.2,-6.5,-7.5]],
  [[-5.7,-8,-6.1,-6.6,-7.9,-4.7,-8.5,-3.3,-9.4,-2.4,-9.6,-1.8,-7.9,-0.3,-6.5,1.9],[-6.0,-7.8,-7.0,-6.0,-8.3,-4.2,-9.0,-3.0,-9.7,-2.1,-8.1,-0.5,-6.7,1.7],[-9.8,-7.2,-7.5,-6.0,-6.0,-5.5,-6.3,-4.7],[-10,-5.3,-8.5,-5.6,-7.5,-6.5,-7.0,-7.8]],
  [[-8,-8,-6.2,-7.3,-5.3,-5.6,-5.45,-3.8,-6.8,-2.4,-7.4,-1.7,-8,-0.8,-7.4,0.9,-6.1,2],[-7.9,-8,-7.9,-0.5,-7.7,1.0],[-7.8,-8,-7.8,0.0],[-10,-5.9,-7.7,-5.9],[-10,-6.4,-7.4,-6.4],[-10,-7.8,-9.0,-5.9,-8.0,-1.0],[-10,-2.4,-8.0,-0.8]],
  [[-8.8,-8,-8.8,-1.0,-8.0,0.5,-6.2,2],[-8.6,-8,-8.6,-1.5],[-8.8,-5.3,-7.3,-4.9,-7.4,-3.6,-8.4,-2.5,-8.7,-1.5],[-10,-6.0,-8.8,-6.0],[-10,-6.4,-8.5,-6.3,-7.6,-7.0,-7.5,-7.3]],
  [[-5.7,-8,-7.55,-7.0,-9.8,-6.1],[-9.7,-2.5,-8.3,-0.4,-6.5,1.4,-7.0,2],[-9.5,-8,-9.5,-4.0,-8.8,-1.0,-7.5,0.8],[-6.0,-8,-8.0,-6.3,-9.5,-4.5,-9.8,-3.0],[-10,-7.3,-8.0,-7.6,-6.5,-8]],
  [[-7.5,-8,-8.3,-5.6,-9.6,-3.0,-9.7,-2.0,-8.3,-0.4,-6.6,1.6,-7.3,2],[-6.5,-8,-7.2,-6.0,-8.0,-4.5,-8.8,-2.3,-8.0,-0.6,-6.8,1.4],[-10,-6.5,-8.2,-5.8,-6.8,-5.0,-6.3,-4.8],[-9.6,-8,-9.6,-6.5,-8.8,-4.0,-8.5,-2.0]],
];

const SPECIES = [
  { name: "H", rich: "{n|H}", color: "#87cefa", width: 4, lines: H_LINES },
  { name: "C2H2", rich: "{n|C}{s|2}{n|H}{s|2}", color: "#ffd700", width: 3.5, lines: C2H2_LINES },
  { name: "CO2", rich: "{n|CO}{s|2}", color: "#9932cc", width: 3.8, lines: CO2_LINES },
  { name: "CH4", rich: "{n|CH}{s|4}", color: "#000000", width: 3.5, lines: CH4_LINES },
  { name: "NH3", rich: "{n|NH}{s|3}", color: "#008000", width: 3.6, lines: NH3_LINES },
  { name: "H2O", rich: "{n|H}{s|2}{n|O}", color: "#0000cd", width: 3.6, lines: H2O_LINES },
  { name: "CO", rich: "{n|CO}", color: "#ff0000", width: 3.8, lines: CO_LINES },
  { name: "HCN", rich: "{n|HCN}", color: "#17becf", width: 3.6, lines: HCN_LINES },
];

const GRID_LEFTS = [165, 432, 697, 963];
const GRID_TOPS = [60, 308, 556, 803, 1052, 1300];
const GRID_W = 221;
const GRID_H = 189;
const FONT = "DejaVu Sans";

function pairs(flat: number[]): number[][] {
  const out: number[][] = [];
  for (let i = 0; i + 1 < flat.length; i += 2) out.push([flat[i], flat[i + 1]]);
  return out;
}

function supText(v: number): string {
  const s = v < 0 ? "\u2212" + String(-v) : String(v);
  return "{b|10}{s|" + s + "}";
}

function buildOption() {
  const grid: any[] = [];
  const xAxis: any[] = [];
  const yAxis: any[] = [];
  const series: any[] = [];
  const graphic: any[] = [];
  const LABEL_PANEL = 20;

  for (let r = 0; r < 6; r++) {
    for (let c = 0; c < 4; c++) {
      const p = r * 4 + c;
      grid.push({
        left: GRID_LEFTS[c], top: GRID_TOPS[r], width: GRID_W, height: GRID_H,
        show: true, borderColor: "#000", borderWidth: 2, backgroundColor: "transparent", z: 10,
      });
      const showLbl = p === LABEL_PANEL;
      xAxis.push({
        type: "value", gridIndex: p, min: X_MIN, max: X_MAX, interval: X_STEP, position: "bottom", z: 10,
        axisLine: { show: true, onZero: false, lineStyle: { color: "#000", width: 2 } },
        axisTick: { show: true, inside: false, length: 10, lineStyle: { color: "#000", width: 2 } },
        splitLine: { show: false },
        axisLabel: { show: showLbl, margin: 14, color: "#000", fontSize: 25, fontFamily: FONT, formatter: (v: number) => String(v) },
      });
      yAxis.push({
        type: "value", gridIndex: p, min: Y_MIN, max: Y_MAX, interval: Y_STEP, inverse: true, position: "left", z: 10,
        axisLine: { show: true, onZero: false, lineStyle: { color: "#000", width: 2 } },
        axisTick: { show: true, inside: false, length: 10, lineStyle: { color: "#000", width: 2 } },
        splitLine: { show: false },
        axisLabel: {
          show: showLbl, margin: 14, color: "#000", fontFamily: FONT,
          formatter: (v: number) => supText(v),
          rich: {
            b: { fontSize: 27, fontFamily: FONT, color: "#000", lineHeight: 36, verticalAlign: "bottom" },
            s: { fontSize: 19, fontFamily: FONT, color: "#000", lineHeight: 14, verticalAlign: "top" },
          },
        },
      });

      SPECIES.forEach((sp, si) => {
        (sp.lines[p] || []).forEach((flat) => {
          series.push({
            type: "line", xAxisIndex: p, yAxisIndex: p, data: pairs(flat),
            symbol: "none", showSymbol: false, smooth: 0.3, silent: true, clip: true, z: 2 + si,
            lineStyle: { color: sp.color, width: sp.width, cap: "round", join: "round" },
            emphasis: { disabled: true },
          });
        });
        if (sp.name === "H2O") {
          (H2O_THIN_LINES[p] || []).forEach((flat) => {
            series.push({
              type: "line", xAxisIndex: p, yAxisIndex: p, data: pairs(flat),
              symbol: "none", showSymbol: false, smooth: 0.3, silent: true, clip: true, z: 2 + si,
              lineStyle: { color: sp.color, width: 1.2, type: [4, 2] },
              emphasis: { disabled: true },
            });
          });
        }
        if (sp.name === "H") {
          (H_THIN_LINES[p] || []).forEach((flat) => {
            series.push({
              type: "line", xAxisIndex: p, yAxisIndex: p, data: pairs(flat),
              symbol: "none", showSymbol: false, smooth: 0.3, silent: true, clip: true, z: 2 + si,
              lineStyle: { color: sp.color, width: 1.2, type: [4, 2] },
              emphasis: { disabled: true },
            });
          });
        }
      });
    }
  }

  // column titles
  COL_LABELS.forEach((t, c) => {
    graphic.push({
      type: "text", x: GRID_LEFTS[c] + GRID_W / 2, y: 33,
      style: { text: t, fill: "#000", font: `43px "${FONT}"`, textAlign: "center", textVerticalAlign: "middle" },
    });
  });
  // row labels
  ROW_LABELS.forEach((t, r) => {
    if (!t) return;
    graphic.push({
      type: "text", x: 147, y: GRID_TOPS[r] + GRID_H / 2 + 3,
      style: { text: t, fill: "#000", font: `39px "${FONT}"`, textAlign: "right", textVerticalAlign: "middle" },
    });
  });
  // legend (text only, coloured)
  SPECIES.forEach((sp, i) => {
    graphic.push({
      type: "text", x: 1208, y: 81 + i * 55.8,
      style: {
        text: sp.rich, fill: sp.color, textAlign: "left", textVerticalAlign: "middle",
        rich: {
          n: { fontSize: 41, fontFamily: FONT, fill: sp.color, lineHeight: 48, verticalAlign: "top" },
          s: { fontSize: 29, fontFamily: FONT, fill: sp.color, lineHeight: 16, verticalAlign: "bottom" },
        },
      },
    });
  });
  // axis titles
  graphic.push({
    type: "text", x: 55, y: GRID_TOPS[5] + GRID_H / 2 + 2, rotation: Math.PI / 2,
    style: { text: "Pressure (bar)", fill: "#000", font: `27px "${FONT}"`, textAlign: "center", textVerticalAlign: "middle" },
  });
  graphic.push({
    type: "text", x: GRID_LEFTS[0] + GRID_W / 2, y: 1560,
    style: { text: "Log molar fraction", fill: "#000", font: `27px "${FONT}"`, textAlign: "center", textVerticalAlign: "middle" },
  });

  return {
    animation: false,
    backgroundColor: "#ffffff",
    grid, xAxis, yAxis, series, graphic,
  };
}

export default function App() {
  const ref = useRef<HTMLDivElement>(null);
  useEffect(() => {
    if (!ref.current) return;
    const chart = echarts.init(ref.current, null, { renderer: "svg" });
    chart.setOption(buildOption() as any);
    return () => chart.dispose();
  }, []);
  return (
    <div
      ref={ref}
      style={{ position: "absolute", left: 0, top: 0, width: 1313, height: 1577, background: "#fff" }}
    />
  );
}
